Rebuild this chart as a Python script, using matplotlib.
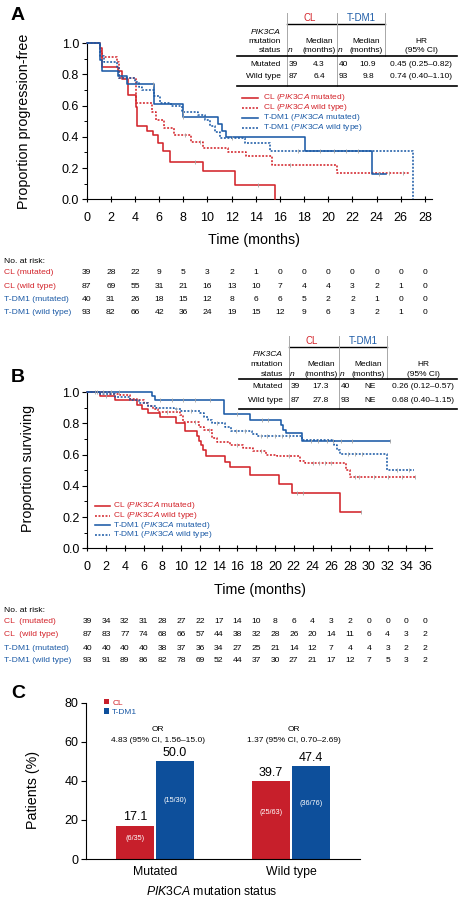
import numpy as np
import matplotlib.pyplot as plt
from matplotlib.lines import Line2D
from matplotlib.ticker import MultipleLocator, FormatStrFormatter
from matplotlib.transforms import blended_transform_factory

plt.rcParams['font.family'] = ['Liberation Sans', 'DejaVu Sans']
plt.rcParams['mathtext.fontset'] = 'custom'
plt.rcParams['mathtext.rm'] = 'Liberation Sans'
plt.rcParams['mathtext.it'] = 'Liberation Sans:italic'

RED = '#d3242b'
BLUE = '#1b5aa6'
BAR_RED = '#c71f2b'
BAR_BLUE = '#0d4f9b'
CENS = '#a5a5a5'
W, H = 462, 900

# ---- Panel A: progression-free survival (step points)
pfs_cl_mut_t = [0, 1.1, 1.3, 2.6, 2.9, 3.45, 4.1, 4.2, 5.0, 5.5, 5.9, 6.3, 6.9, 9.6, 12.3, 15.6]
pfs_cl_mut_s = [1.0, 0.97, 0.85, 0.82, 0.77, 0.67, 0.59, 0.47, 0.44, 0.41, 0.36, 0.31, 0.24, 0.18, 0.09, 0.0]
pfs_cl_wt_t = [0, 1.1, 1.3, 2.5, 2.7, 4.1, 5.4, 5.7, 6.4, 7.2, 8.6, 9.65, 11.7, 13.2, 15.3, 20.7, 26.8]
pfs_cl_wt_s = [1.0, 0.95, 0.91, 0.88, 0.78, 0.62, 0.56, 0.51, 0.46, 0.41, 0.37, 0.33, 0.30, 0.28, 0.22, 0.17, 0.17]
pfs_tdm_mut_t = [0, 1.1, 1.3, 2.6, 3.3, 5.6, 8.0, 10.9, 11.2, 11.5, 18.1, 23.6, 24.8]
pfs_tdm_mut_s = [1.0, 0.89, 0.82, 0.79, 0.74, 0.61, 0.53, 0.48, 0.44, 0.40, 0.31, 0.16, 0.16]
pfs_tdm_wt_t = [0, 1.1, 1.4, 2.5, 2.7, 4.0, 4.3, 4.6, 5.6, 6.1, 7.0, 7.9, 9.2, 9.8, 10.2, 10.6, 11.0, 13.1, 15.2, 27.0]
pfs_tdm_wt_s = [1.0, 0.92, 0.88, 0.85, 0.78, 0.75, 0.72, 0.70, 0.66, 0.62, 0.60, 0.56, 0.54, 0.51, 0.47, 0.43, 0.39, 0.36, 0.31, 0.0]
pfs_cl_mut_cens = [9.0, 14.2]
pfs_cl_wt_cens = [8.1, 9.4, 16.8, 25.0, 26.2]
pfs_tdm_mut_cens = [5.5, 8.0, 24.2]
pfs_tdm_wt_cens = [8.0, 12.0, 17.5, 19.3, 20.5, 21.5, 22.5]

# ---- Panel B: overall survival
os_cl_mut_t = [0, 1.4, 3.0, 5.3, 5.8, 6.5, 7.7, 9.5, 10.4, 11.7, 11.9, 12.1, 12.3, 12.6, 14.7, 15.2, 17.3, 20.4, 21.8, 26.9, 29.2]
os_cl_mut_s = [1.0, 0.975, 0.95, 0.92, 0.895, 0.865, 0.84, 0.80, 0.75, 0.72, 0.69, 0.66, 0.63, 0.59, 0.555, 0.52, 0.47, 0.415, 0.355, 0.23, 0.23]
os_cl_wt_t = [0, 2.4, 3.5, 4.5, 5.3, 6.0, 6.5, 7.0, 7.5, 9.9, 10.2, 11.9, 12.4, 13.3, 13.8, 15.2, 16.6, 17.7, 19.0, 20.2, 22.7, 23.2, 27.6, 28.0, 34.9]
os_cl_wt_s = [1.0, 0.99, 0.98, 0.96, 0.95, 0.93, 0.91, 0.89, 0.875, 0.855, 0.81, 0.78, 0.76, 0.705, 0.683, 0.66, 0.64, 0.624, 0.60, 0.59, 0.56, 0.545, 0.50, 0.46, 0.46]
os_tdm_mut_t = [0, 6.9, 7.2, 14.6, 17.3, 20.6, 20.9, 21.2, 22.9, 32.3]
os_tdm_mut_s = [1.0, 0.975, 0.95, 0.86, 0.82, 0.79, 0.76, 0.74, 0.69, 0.69]
os_tdm_wt_t = [0, 1.4, 3.0, 4.5, 5.5, 6.5, 7.3, 9.2, 10.0, 12.0, 12.4, 12.9, 13.3, 14.7, 15.3, 17.5, 18.1, 22.9, 26.3, 26.6, 26.9, 31.9, 34.8]
os_tdm_wt_s = [1.0, 0.99, 0.97, 0.95, 0.93, 0.91, 0.90, 0.89, 0.88, 0.865, 0.84, 0.82, 0.80, 0.78, 0.75, 0.73, 0.72, 0.695, 0.66, 0.63, 0.605, 0.505, 0.505]
os_cl_mut_cens = [1.0, 2.0, 22.3, 23.0, 29.2]
os_cl_wt_cens = [8.5, 11.5, 13.0, 16.0, 18.5, 21.5, 24.0, 24.7, 25.3, 26.0, 28.5, 29.0, 30.5, 32.0, 33.5, 34.9]
os_tdm_mut_cens = [0.8, 1.7, 2.5, 3.4, 7.8, 9.0, 10.2, 11.5, 13.1, 16.0, 18.6, 19.3, 23.8, 24.6, 25.5, 26.2, 27.0, 28.2, 32.3]
os_tdm_wt_cens = [9.5, 11.0, 13.8, 15.8, 16.8, 18.5, 19.2, 20.0, 20.8, 21.5, 27.8, 28.5, 29.3, 33.0, 34.3]

# ---- summary tables
tab_status = ['Mutated', 'Wild type']
pfs_cl_n = [39, 87]
pfs_cl_med = ['4.3', '6.4']
pfs_tdm_n = [40, 93]
pfs_tdm_med = ['10.9', '9.8']
pfs_hr = ['0.45 (0.25\u20130.82)', '0.74 (0.40\u20131.10)']
os_cl_n = [39, 87]
os_cl_med = ['17.3', '27.8']
os_tdm_n = [40, 93]
os_tdm_med = ['NE', 'NE']
os_hr = ['0.26 (0.12\u20130.57)', '0.68 (0.40\u20131.15)']

# ---- numbers at risk
pfs_ticks = np.arange(0, 29, 2)
pfs_risk_cl_mut = [39, 28, 22, 9, 5, 3, 2, 1, 0, 0, 0, 0, 0, 0, 0]
pfs_risk_cl_wt = [87, 69, 55, 31, 21, 16, 13, 10, 7, 4, 4, 3, 2, 1, 0]
pfs_risk_tdm_mut = [40, 31, 26, 18, 15, 12, 8, 6, 6, 5, 2, 2, 1, 0, 0]
pfs_risk_tdm_wt = [93, 82, 66, 42, 36, 24, 19, 15, 12, 9, 6, 3, 2, 1, 0]
os_ticks = np.arange(0, 37, 2)
os_risk_cl_mut = [39, 34, 32, 31, 28, 27, 22, 17, 14, 10, 8, 6, 4, 3, 2, 0, 0, 0, 0]
os_risk_cl_wt = [87, 83, 77, 74, 68, 66, 57, 44, 38, 32, 28, 26, 20, 14, 11, 6, 4, 3, 2]
os_risk_tdm_mut = [40, 40, 40, 40, 38, 37, 36, 34, 27, 25, 21, 14, 12, 7, 4, 4, 3, 2, 2]
os_risk_tdm_wt = [93, 91, 89, 86, 82, 78, 69, 52, 44, 37, 30, 27, 21, 17, 12, 7, 5, 3, 2]

# ---- Panel C: response rates
groups = ['Mutated', 'Wild type']
cl_pct = [17.1, 39.7]
tdm_pct = [50.0, 47.4]
cl_frac = ['(6/35)', '(25/63)']
tdm_frac = ['(15/30)', '(36/76)']
or_text = ['4.83 (95% CI, 1.56\u201315.0)', '1.37 (95% CI, 0.70\u20132.69)']

LEG_LABELS = ['CL ($\\mathit{PIK3CA}$ mutated)', 'CL ($\\mathit{PIK3CA}$ wild type)',
              'T-DM1 ($\\mathit{PIK3CA}$ mutated)', 'T-DM1 ($\\mathit{PIK3CA}$ wild type)']
STYLES = [(RED, '-'), (RED, (0, (1.2, 1.0))), (BLUE, '-'), (BLUE, (0, (1.2, 1.0)))]
TAB_FS = 6.0
RISK_FS = 6.1
TICK_FS = 9.0
LABEL_FS = 10.3


def fx(x):
    return x / W


def fy(y):
    return 1 - y / H


def fig_line(fig, xs, ys, lw=0.9, color='black', ls='-'):
    fig.add_artist(Line2D([fx(v) for v in xs], [fy(v) for v in ys], lw=lw,
                          color=color, ls=ls, transform=fig.transFigure))


def ftext(fig, x, y, s, size=TAB_FS, ha='center', color='black', **kw):
    fig.text(fx(x), fy(y), s, ha=ha, va='center', fontsize=size, color=color, **kw)


def km(ax, t, s, color, ls, cens):
    t = np.asarray(t)
    s = np.asarray(s)
    ax.step(t, s, where='post', color=color, ls=ls, lw=1.15, clip_on=False, zorder=3)
    c = np.asarray(cens)
    cy = s[np.searchsorted(t, c, side='right') - 1]
    ax.plot(c, cy, ls='none', marker='|', ms=3, mew=0.6, color=CENS, zorder=4, clip_on=False)


def style_km_axes(ax, xmax, ticks):
    ax.set_xlim(0, xmax)
    ax.set_ylim(0, 1.0)
    ax.set_xticks(ticks)
    ax.yaxis.set_major_locator(MultipleLocator(0.2))
    ax.yaxis.set_minor_locator(MultipleLocator(0.1))
    ax.yaxis.set_major_formatter(FormatStrFormatter('%.1f'))
    for side in ['top', 'right']:
        ax.spines[side].set_visible(False)
    for side in ['left', 'bottom']:
        ax.spines[side].set_linewidth(0.8)
    ax.tick_params(axis='x', direction='inout', length=4, width=0.8, labelsize=TICK_FS, pad=7)
    ax.tick_params(axis='y', which='major', direction='out', length=3.5, width=0.8,
                   labelsize=TICK_FS, pad=2)
    ax.tick_params(axis='y', which='minor', direction='out', length=2, width=0.7)


def summary_table(fig, dx, dy, cl_n, cl_med, tdm_n, tdm_med, hr):
    ftext(fig, 310 + dx, 18 + dy, 'CL', size=7, color=RED)
    ftext(fig, 361 + dx, 18 + dy, 'T-DM1', size=7, color=BLUE)
    fig_line(fig, [287 + dx, 385 + dx], [23.5 + dy, 23.5 + dy], lw=1.0)
    for xv, y1 in [(287, 86), (337, 86), (385, 56)]:
        fig_line(fig, [xv + dx, xv + dx], [13 + dy, y1 + dy], lw=0.7, color='#a8a8a8')
    ftext(fig, 281 + dx, 32 + dy, 'PIK3CA', ha='right', style='italic')
    ftext(fig, 281 + dx, 41.5 + dy, 'mutation', ha='right')
    ftext(fig, 281 + dx, 51 + dy, 'status', ha='right')
    for xn, xm in [(290.5, 319), (340.5, 366)]:
        ftext(fig, xn + dx, 51 + dy, 'n', style='italic')
        ftext(fig, xm + dx, 41.5 + dy, 'Median')
        ftext(fig, xm + dx, 51 + dy, '(months)')
    ftext(fig, 421 + dx, 41.5 + dy, 'HR')
    ftext(fig, 421 + dx, 51 + dy, '(95% CI)')
    fig_line(fig, [237 + dx, 457], [56 + dy, 56 + dy], lw=1.2)
    fig_line(fig, [237 + dx, 457], [86 + dy, 86 + dy], lw=1.2)
    for i, yr in enumerate([64, 77]):
        ftext(fig, 281 + dx, yr + dy, tab_status[i], ha='right')
        ftext(fig, 289 + dx, yr + dy, str(cl_n[i]), ha='left')
        ftext(fig, 319 + dx, yr + dy, cl_med[i])
        ftext(fig, 339 + dx, yr + dy, str(tdm_n[i]), ha='left')
        ftext(fig, 368 + dx, yr + dy, tdm_med[i])
        ftext(fig, 421 + dx, yr + dy, hr[i])


def km_legend(fig, x0, x1, xt, ys):
    for (col, ls), lab, y in zip(STYLES, LEG_LABELS, ys):
        fig_line(fig, [x0, x1], [y, y], lw=1.15, color=col, ls=ls)
        ftext(fig, xt, y, lab, size=6.0, ha='left', color=col)


def risk_table(fig, ax, ticks, labels, rows, y_title, y_rows):
    tr = blended_transform_factory(ax.transData, fig.transFigure)
    ftext(fig, 4, y_title, 'No. at risk:', size=RISK_FS, ha='left')
    cols = [RED, RED, BLUE, BLUE]
    for lab, col, vals, y in zip(labels, cols, rows, y_rows):
        ftext(fig, 4, y, lab, size=RISK_FS, ha='left', color=col)
        for t, v in zip(ticks, vals):
            ax.text(t, fy(y), str(v), transform=tr, ha='center', va='center',
                    fontsize=RISK_FS, clip_on=False)


fig = plt.figure(figsize=(W / 100, H / 100), dpi=100)

# ---------------- Panel A
axA = fig.add_axes([fx(86.7), fy(199.3), (431.7 - 86.7) / W, 156 / H])
km(axA, pfs_cl_mut_t, pfs_cl_mut_s, RED, STYLES[0][1], pfs_cl_mut_cens)
km(axA, pfs_cl_wt_t, pfs_cl_wt_s, RED, STYLES[1][1], pfs_cl_wt_cens)
km(axA, pfs_tdm_mut_t, pfs_tdm_mut_s, BLUE, STYLES[2][1], pfs_tdm_mut_cens)
km(axA, pfs_tdm_wt_t, pfs_tdm_wt_s, BLUE, STYLES[3][1], pfs_tdm_wt_cens)
style_km_axes(axA, 28.56, pfs_ticks)
axA.set_ylabel('Proportion progression-free', fontsize=LABEL_FS)
axA.yaxis.set_label_coords(-0.16, 0.5)
axA.set_xlabel('Time (months)', fontsize=LABEL_FS)
axA.xaxis.set_label_coords(0.485, -0.215)
ftext(fig, 18, 15, 'A', size=14, weight='bold')
summary_table(fig, 0, 0, pfs_cl_n, pfs_cl_med, pfs_tdm_n, pfs_tdm_med, pfs_hr)
km_legend(fig, 242, 258, 263, [97.7, 107.5, 117.5, 127.5])
risk_table(fig, axA, pfs_ticks,
           ['CL (mutated)', 'CL (wild type)', 'T-DM1 (mutated)', 'T-DM1 (wild type)'],
           [pfs_risk_cl_mut, pfs_risk_cl_wt, pfs_risk_tdm_mut, pfs_risk_tdm_wt],
           261.5, [272.3, 286, 299.3, 312.8])

# ---------------- Panel B
axB = fig.add_axes([fx(87.3), fy(548.3), (431.7 - 87.3) / W, 156 / H])
km(axB, os_cl_mut_t, os_cl_mut_s, RED, STYLES[0][1], os_cl_mut_cens)
km(axB, os_cl_wt_t, os_cl_wt_s, RED, STYLES[1][1], os_cl_wt_cens)
km(axB, os_tdm_mut_t, os_tdm_mut_s, BLUE, STYLES[2][1], os_tdm_mut_cens)
km(axB, os_tdm_wt_t, os_tdm_wt_s, BLUE, STYLES[3][1], os_tdm_wt_cens)
style_km_axes(axB, 36.7, os_ticks)
axB.set_ylabel('Proportion surviving', fontsize=LABEL_FS)
axB.yaxis.set_label_coords(-0.152, 0.51)
axB.set_xlabel('Time (months)', fontsize=LABEL_FS)
axB.xaxis.set_label_coords(0.5, -0.225)
ftext(fig, 18, 377, 'B', size=14, weight='bold')
summary_table(fig, 2, 323, os_cl_n, os_cl_med, os_tdm_n, os_tdm_med, os_hr)
km_legend(fig, 95, 110, 113, [505.7, 515.7, 525.3, 535])
risk_table(fig, axB, os_ticks,
           ['CL  (mutated)', 'CL  (wild type)', 'T-DM1 (mutated)', 'T-DM1 (wild type)'],
           [os_risk_cl_mut, os_risk_cl_wt, os_risk_tdm_mut, os_risk_tdm_wt],
           610, [621.7, 635, 648.3, 661])

# ---------------- Panel C
axC = fig.add_axes([fx(86), fy(859), 274 / W, 156.3 / H])
x = np.arange(len(groups))
w, off = 0.28, 0.147
b1 = axC.bar(x - off, cl_pct, w, color=BAR_RED, label='CL')
b2 = axC.bar(x + off, tdm_pct, w, color=BAR_BLUE, label='T-DM1')
for xi, v, fr in zip(x - off, cl_pct, cl_frac):
    axC.text(xi, v + 1.2, f'{v:.1f}', ha='center', va='bottom', fontsize=9)
    axC.text(xi, v * 0.6, fr, ha='center', va='center', fontsize=5.2, color='white')
for xi, v, fr in zip(x + off, tdm_pct, tdm_frac):
    axC.text(xi, v + 1.2, f'{v:.1f}', ha='center', va='bottom', fontsize=9)
    axC.text(xi, v * 0.6, fr, ha='center', va='center', fontsize=5.2, color='white')
for xi, t in zip(x, or_text):
    axC.text(xi + 0.02, 66.4, 'OR', ha='center', va='center', fontsize=6)
    axC.text(xi + 0.02, 60.9, t, ha='center', va='center', fontsize=6)
axC.set_xlim(-0.507, 1.507)
axC.set_ylim(0, 80)
axC.set_yticks([0, 20, 40, 60, 80])
axC.set_xticks(x)
axC.set_xticklabels(groups, fontsize=8.8)
axC.tick_params(axis='x', length=0, pad=5)
axC.tick_params(axis='y', direction='out', length=3.5, width=0.8, labelsize=TICK_FS, pad=2)
for side in ['top', 'right']:
    axC.spines[side].set_visible(False)
for side in ['left', 'bottom']:
    axC.spines[side].set_linewidth(0.8)
axC.set_ylabel('Patients (%)', fontsize=LABEL_FS)
axC.yaxis.set_label_coords(-0.168, 0.44)
ftext(fig, 212, 891.7, '$\\mathit{PIK3CA}$ mutation status', size=8.8)
ftext(fig, 18, 693, 'C', size=14, weight='bold')
axC.legend(handles=[b1, b2], loc='upper left', bbox_to_anchor=(fx(104), fy(699)),
           bbox_transform=fig.transFigure, frameon=False, fontsize=6,
           handlelength=0.6, handleheight=0.6, handletextpad=0.4, labelspacing=0.2,
           borderaxespad=0, borderpad=0, labelcolor=[RED, BLUE])

fig.savefig('out.png', dpi=100)
